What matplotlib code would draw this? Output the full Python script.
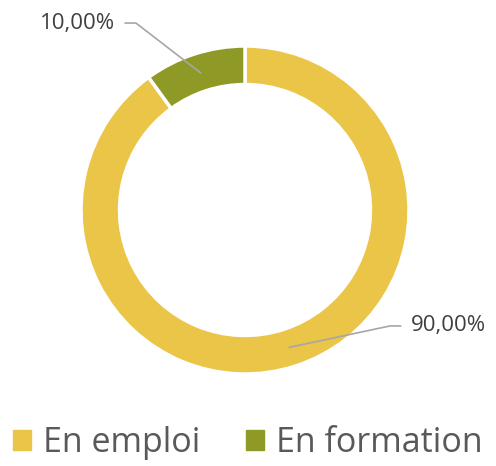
import numpy as np
import matplotlib.pyplot as plt

labels = ['En emploi', 'En formation']
values = [90.0, 10.0]
value_labels = ['90,00%', '10,00%']
colors = ['#EBC548', '#8F9A26']

plt.rcParams['font.family'] = ['Open Sans', 'DejaVu Sans']
text_color = '#595959'

fig = plt.figure(figsize=(4.96, 4.66), dpi=100)
cx, cy, r = 245, 210, 164
ax = fig.add_axes([(cx - r) / 496, (466 - cy - r) / 466, 2 * r / 496, 2 * r / 466])

wedges, _ = ax.pie(values, colors=colors, startangle=90, counterclock=False,
                   radius=1, wedgeprops=dict(width=0.235, edgecolor='white', linewidth=2.5))
ax.set_xlim(-1, 1)
ax.set_ylim(-1, 1)
ax.set_aspect('equal')

# leader lines + labels
elbows = {0: (0.884, -0.707, 1), 1: (-0.665, 1.14, -1)}
for i, w in enumerate(wedges):
    mid = np.deg2rad((w.theta1 + w.theta2) / 2)
    x0, y0 = 0.88 * np.cos(mid), 0.88 * np.sin(mid)
    ex, ey, side = elbows[i]
    hx = ex + side * 0.065
    ax.plot([x0, ex, hx], [y0, ey, ey], color='#A6A6A6', lw=1.2, clip_on=False)
    ax.text(hx + side * 0.06, ey, value_labels[i], ha='left' if side > 0 else 'right',
            va='center', fontsize=16, color='#404040')

handles = [plt.Rectangle((0, 0), 1, 1, color=c) for c in colors]
fig.legend(handles, labels, loc='center', bbox_to_anchor=(0.5, 0.05), ncol=2,
           frameon=False, fontsize=24.5, labelcolor=text_color, handlelength=0.53,
           handleheight=0.53, handletextpad=0.35, columnspacing=1.35)

fig.savefig('out.png', dpi=100)
